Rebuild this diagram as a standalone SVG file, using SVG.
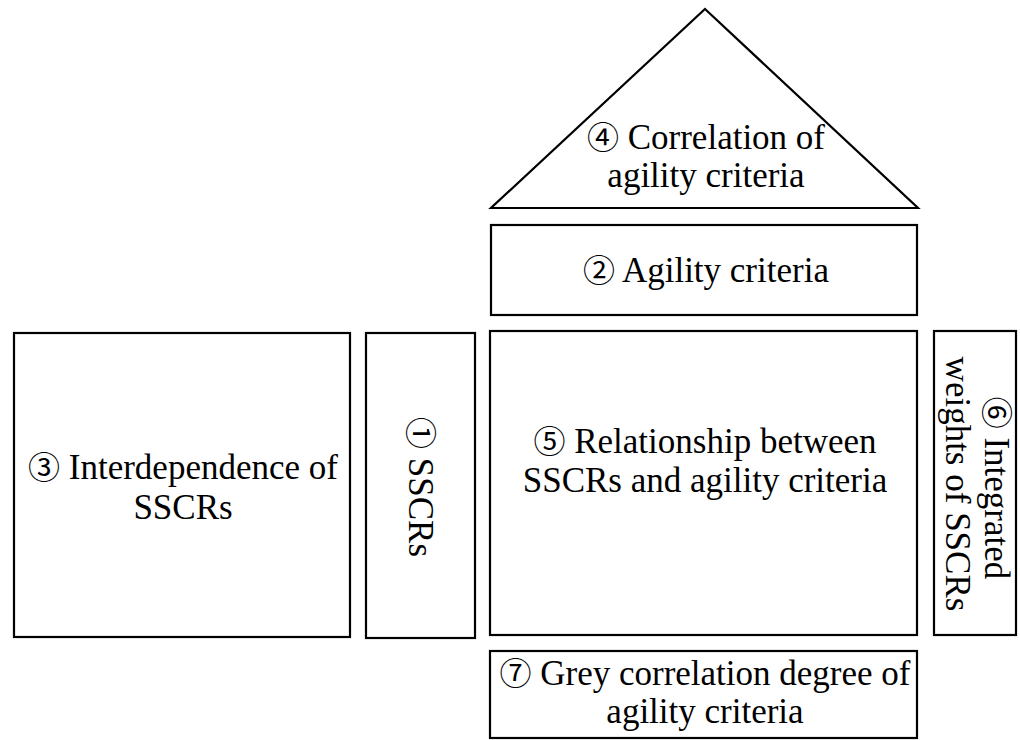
<svg xmlns="http://www.w3.org/2000/svg" width="1020" height="740" viewBox="0 0 1020 740">
<style>
.shape{fill:#ffffff;stroke:#000000;stroke-width:2.2}
.lbl{font-family:"Liberation Serif","Noto Sans CJK JP",serif;font-size:35px;fill:#000000;text-anchor:middle}
.num{font-family:"Noto Sans CJK JP","Noto Sans CJK SC",sans-serif;font-size:32px}
</style>
<rect x="0" y="0" width="1020" height="740" fill="#ffffff"/>
<g id="connectors"></g>
<g id="node4">
<polygon class="shape" points="705,9 918,208 491,208"/>
<text class="lbl" x="706" y="149"><tspan class="num">④</tspan> Correlation of</text>
<text class="lbl" x="706" y="187">agility criteria</text>
</g>
<g id="node2">
<rect class="shape" x="491" y="225" width="426" height="90"/>
<text class="lbl" x="706" y="282"><tspan class="num">②</tspan> Agility criteria</text>
</g>
<g id="node3">
<rect class="shape" x="14" y="333" width="336" height="304"/>
<text class="lbl" x="183" y="479"><tspan class="num">③</tspan> Interdependence of</text>
<text class="lbl" x="183" y="519">SSCRs</text>
</g>
<g id="node1">
<rect class="shape" x="366" y="333" width="109" height="305"/>
<text class="lbl" transform="translate(409,487) rotate(90)"><tspan class="num">①</tspan> SSCRs</text>
</g>
<g id="node5">
<rect class="shape" x="490" y="331" width="427" height="304"/>
<text class="lbl" x="705" y="453"><tspan class="num">⑤</tspan> Relationship between</text>
<text class="lbl" x="705" y="492">SSCRs and agility criteria</text>
</g>
<g id="node6">
<rect class="shape" x="934" y="331" width="82" height="304"/>
<text class="lbl" transform="translate(985,488) rotate(90)"><tspan class="num">⑥</tspan> Integrated</text>
<text class="lbl" transform="translate(946,484) rotate(90)">weights of SSCRs</text>
</g>
<g id="node7">
<rect class="shape" x="490" y="651" width="427" height="87"/>
<text class="lbl" x="705" y="685"><tspan class="num">⑦</tspan> Grey correlation degree of</text>
<text class="lbl" x="705" y="723">agility criteria</text>
</g>
</svg>
